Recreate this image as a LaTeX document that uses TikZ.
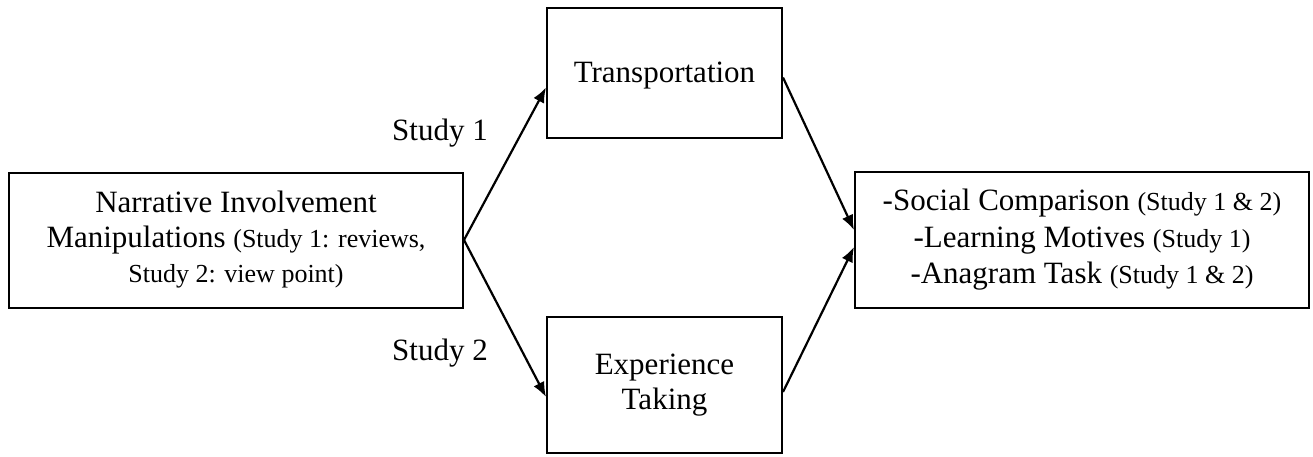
\documentclass[tikz,border=0pt]{standalone}
\usepackage{fontspec}
\setmainfont{Liberation Serif}
\usetikzlibrary{arrows.meta}
\begin{document}
\begin{tikzpicture}[x=1pt,y=-1pt,
  box/.style={draw,line width=2pt,align=center,inner sep=0pt,font=\fontsize{31}{35}\selectfont},
  arr/.style={line width=2.2pt,-{Latex[length=15pt,width=12pt]}},
  lbl/.style={font=\fontsize{31}{35}\selectfont,inner sep=0pt}]
\useasboundingbox (0,0) rectangle (1313,456);
\newcommand{\sm}[1]{{\fontsize{26}{35}\selectfont #1}}
\node[box,minimum width=454pt,minimum height=135pt] (nim) at (236,240)
  {Narrative Involvement\\Manipulations \sm{(Study 1: reviews,}\\\sm{Study 2: view point)}};
\node[box,minimum width=235pt,minimum height=130pt] (tr) at (664.5,72.5) {};
\node[font=\fontsize{31}{35}\selectfont] (trt) at (664.5,76) {Transportation};
\node[box,minimum width=235pt,minimum height=136pt] (ex) at (664.5,385) {Experience\\Taking};
\node[box,minimum width=454pt,minimum height=136pt,font=\fontsize{31}{36.5}\selectfont] (out) at (1082,240)
  {-Social Comparison \sm{(Study 1 \& 2)}\\-Learning Motives \sm{(Study 1)}\\-Anagram Task \sm{(Study 1 \& 2)}};
\node[lbl] (s1) at (440,133) {Study 1};
\node[lbl] (s2) at (440,353) {Study 2};
\draw[arr] (nim.east) -- ([yshift=-15pt]tr.west);
\draw[arr] (nim.east) -- ([yshift=-12pt]ex.west);
\draw[arr] ([yshift=-5pt]tr.east) -- ([yshift=10pt]out.west);
\draw[arr] ([yshift=-7pt]ex.east) -- ([yshift=-7pt]out.west);
\end{tikzpicture}
\end{document}
